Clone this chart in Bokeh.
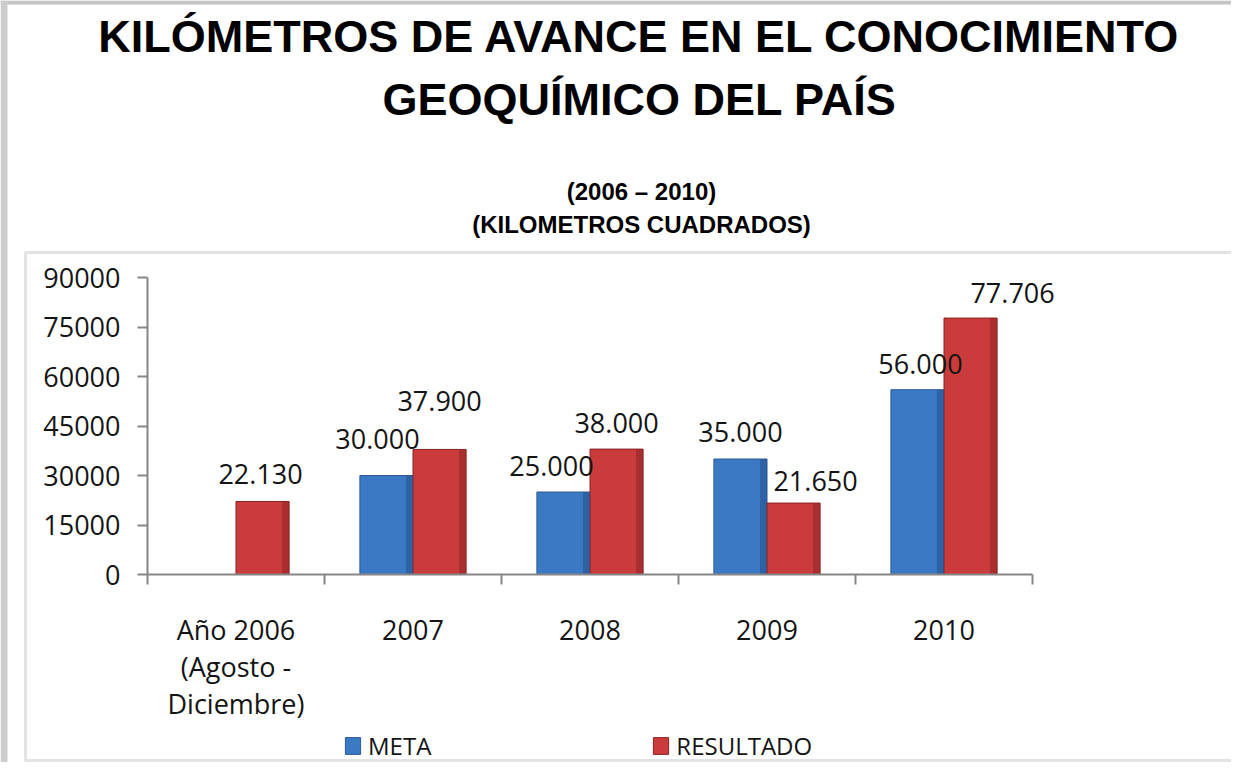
from bokeh.plotting import figure
from bokeh.models import (ColumnDataSource, Range1d, LinearAxis, FixedTicker, Label,
                          NumeralTickFormatter, LabelSet, Legend, LegendItem, BoxAnnotation)
from bokeh.transform import dodge
from bokeh.core.properties import value
from bokeh.embed import file_html
from bokeh.resources import INLINE

# ---------------- data ----------------
title_lines = ["KILÓMETROS DE AVANCE EN EL CONOCIMIENTO", "GEOQUÍMICO DEL PAÍS"]
subtitle_lines = ["(2006 – 2010)", "(KILOMETROS CUADRADOS)"]
categories = ["2006", "2007", "2008", "2009", "2010"]
category_labels = ["Año 2006\n(Agosto -\nDiciembre)", "2007", "2008", "2009", "2010"]
series_names = ["META", "RESULTADO"]
meta = [None, 30000, 25000, 35000, 56000]
resultado = [22130, 37900, 38000, 21650, 77706]
y_ticks = [0, 15000, 30000, 45000, 60000, 75000, 90000]
y_max = 90000

# label nudges in pixels (data-label placement as in the original)
meta_dx = [0, -9, -12, 0, 3]
meta_dy = [0, 37, 26, 27, 26]
res_dx = [-2, 0, 0, 22, 42]
res_dy = [27, 48, 26, 22, 25]

# ---------------- style / layout ----------------
BLUE, BLUE_EDGE, BLUE_DARK = "#3c79c4", "#2b5a96", "#24508a"
RED, RED_EDGE, RED_DARK = "#ca3b3c", "#8a2224", "#8e2426"
AXIS = "#868686"
TXT = "#141414"
FONT = "Open Sans"
TFONT = "Liberation Sans"

W, H = 1231, 762
n = len(categories)
SLOT = 177                 # px per category
PLOT_LEFT = 147            # px of category axis start
PLOT_TOP, PLOT_BOTTOM = 277, 574   # px of y_max and of 0
ppu = (PLOT_BOTTOM - PLOT_TOP) / y_max

x_range = Range1d(-PLOT_LEFT / SLOT, (W - PLOT_LEFT) / SLOT)
y_range = Range1d(-(H - PLOT_BOTTOM) / ppu, PLOT_BOTTOM / ppu)

p = figure(width=W, height=H, x_range=x_range, y_range=y_range,
           output_backend="svg", toolbar_location=None, x_axis_location=None, y_axis_location=None,
           min_border=0, min_border_left=0, min_border_right=0, min_border_top=0, min_border_bottom=0)
p.title.visible = False
p.outline_line_color = None
p.grid.visible = False
p.background_fill_color = "white"
p.border_fill_color = "white"

# slide decorations and chart box
p.add_layout(BoxAnnotation(left=0, right=W, top=H, bottom=H - 4, left_units="screen",
                           right_units="screen", top_units="screen", bottom_units="screen",
                           fill_color="#c4c4c4", fill_alpha=1, line_color=None))
p.add_layout(BoxAnnotation(left=0, right=7, top=H, bottom=0, left_units="screen",
                           right_units="screen", top_units="screen", bottom_units="screen",
                           fill_color="#cdcdcd", fill_alpha=1, line_color=None))
p.add_layout(BoxAnnotation(left=25, right=W + 10, top=H - 252, bottom=2, left_units="screen",
                           right_units="screen", top_units="screen", bottom_units="screen",
                           fill_color=None, line_color="#a3a3a3", line_width=3))

# titles
for txt, y in zip(title_lines, [36, 99]):
    p.add_layout(Label(x=639, y=H - y, x_units="screen", y_units="screen", text=txt,
                       text_align="center", text_baseline="middle", text_font=TFONT,
                       text_font_style="bold", text_font_size="45px", text_color="black"))
for txt, y in zip(subtitle_lines, [191, 224]):
    p.add_layout(Label(x=641, y=H - y, x_units="screen", y_units="screen", text=txt,
                       text_align="center", text_baseline="middle", text_font=TFONT,
                       text_font_style="bold", text_font_size="24px", text_color="black"))

# axes drawn at fixed data locations
ya = LinearAxis(fixed_location=0, bounds=(0, y_max), ticker=FixedTicker(ticks=y_ticks),
                formatter=NumeralTickFormatter(format="0"))
ya.axis_line_color = AXIS
ya.axis_line_width = 2
ya.major_tick_line_color = AXIS
ya.major_tick_line_width = 2
ya.major_tick_out = 10
ya.major_tick_in = 0
ya.minor_tick_line_color = None
ya.major_label_standoff = 17
ya.major_label_text_font = FONT
ya.major_label_text_font_size = "27px"
ya.major_label_text_color = TXT
p.add_layout(ya, "left")

centers = [i + 0.5 for i in range(n)]
xa = LinearAxis(fixed_location=0, bounds=(0, n),
                ticker=FixedTicker(ticks=centers, minor_ticks=list(range(n + 1))),
                major_label_overrides={c: lab for c, lab in zip(centers, category_labels)})
xa.axis_line_color = AXIS
xa.axis_line_width = 2
xa.major_tick_line_color = None
xa.major_tick_out = 10
xa.major_tick_in = 0
xa.minor_tick_line_color = AXIS
xa.minor_tick_line_width = 2
xa.minor_tick_out = 10
xa.minor_tick_in = 0
xa.major_label_standoff = 26
xa.major_label_text_font = FONT
xa.major_label_text_font_size = "27px"
xa.major_label_text_color = TXT
xa.major_label_text_line_height = 1.0
p.add_layout(xa, "below")

# bars
src = ColumnDataSource(dict(pos=centers,
                            meta=[float("nan") if v is None else v for v in meta],
                            res=resultado))
r_meta = p.vbar(x=dodge("pos", -0.15), top="meta", width=0.30, source=src,
                fill_color=BLUE, line_color=BLUE_EDGE, line_width=1)
r_res = p.vbar(x=dodge("pos", 0.15), top="res", width=0.30, source=src,
               fill_color=RED, line_color=RED_EDGE, line_width=1)
# darker right-hand shading of the bevelled bars
p.vbar(x=dodge("pos", -0.02), top="meta", width=0.04, source=src,
       fill_color=BLUE_DARK, fill_alpha=0.55, line_color=None)
p.vbar(x=dodge("pos", 0.28), top="res", width=0.04, source=src,
       fill_color=RED_DARK, fill_alpha=0.55, line_color=None)


def fmt(v):
    return f"{v:,}".replace(",", ".")


def label_source(vals, dx, dy):
    rows = [(c, v, fmt(v), a, b) for c, v, a, b in zip(centers, vals, dx, dy) if v is not None]
    return ColumnDataSource(dict(pos=[r[0] for r in rows], y=[r[1] for r in rows],
                                 text=[r[2] for r in rows], dx=[r[3] for r in rows],
                                 dy=[r[4] for r in rows]))


for vals, dx, dy, off in [(meta, meta_dx, meta_dy, -0.15), (resultado, res_dx, res_dy, 0.15)]:
    p.add_layout(LabelSet(x=dodge("pos", off), y="y", text="text", x_offset="dx", y_offset="dy",
                          source=label_source(vals, dx, dy), text_align="center",
                          text_baseline="middle", text_font=value(FONT), text_font_size="27px",
                          text_color=TXT))

legend = Legend(items=[LegendItem(label=series_names[0], renderers=[r_meta]),
                       LegendItem(label=series_names[1], renderers=[r_res])],
                location=(343, 0), orientation="horizontal", padding=0, margin=0,
                spacing=220, glyph_width=19, glyph_height=21, label_standoff=6,
                label_text_font=FONT, label_text_font_size="24px", label_text_color=TXT,
                border_line_color=None, background_fill_alpha=0)
p.add_layout(legend)

open("out.html", "w").write(file_html(p, INLINE))
